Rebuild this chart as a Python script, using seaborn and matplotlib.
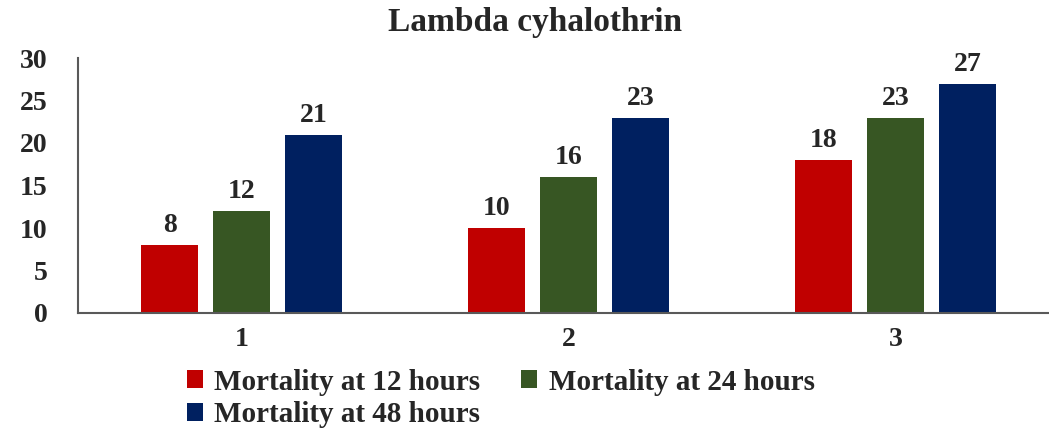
import pandas as pd
import matplotlib.pyplot as plt
import seaborn as sns

# chart data
groups = ['1', '2', '3']
series_names = ['Mortality at 12 hours', 'Mortality at 24 hours', 'Mortality at 48 hours']
mort_12h = [8, 10, 18]
mort_24h = [12, 16, 23]
mort_48h = [21, 23, 27]
colors = ['#C00000', '#375623', '#002060']

# long form table for seaborn
rows = []
for name, vals in zip(series_names, [mort_12h, mort_24h, mort_48h]):
    for g, v in zip(groups, vals):
        rows.append({'group': g, 'series': name, 'value': v})
df = pd.DataFrame(rows)

sns.set_style('white')
plt.rcParams['font.family'] = ['Liberation Serif', 'DejaVu Serif']
plt.rcParams['font.weight'] = 'bold'

fig = plt.figure(figsize=(10.49, 4.28), dpi=100)
ax = fig.add_axes([78 / 1049, 115 / 428, 971 / 1049, 255 / 428])

sns.barplot(data=df, x='group', y='value', hue='series', hue_order=series_names,
            palette=colors, width=0.66, gap=0.2, linewidth=0, saturation=1, ax=ax)

for cont in ax.containers:
    ax.bar_label(cont, fontsize=20, fontweight='bold', padding=5)

ax.set_ylim(0, 30)
ax.set_yticks(range(0, 31, 5))
ax.set_xlim(-0.5, -0.5 + 971 / 327)
ax.set_xlabel('')
ax.set_ylabel('')
ax.tick_params(axis='both', length=0, labelsize=20)
ax.tick_params(axis='y', pad=22)
ax.tick_params(axis='x', pad=10)
for lbl in ax.get_xticklabels() + ax.get_yticklabels():
    lbl.set_fontweight('bold')

for side in ['top', 'right']:
    ax.spines[side].set_visible(False)
for side in ['left', 'bottom']:
    ax.spines[side].set_color('#595959')
    ax.spines[side].set_linewidth(1.5)

fig.text(0.51, 0.948, 'Lambda cyhalothrin', ha='center', va='center',
         fontsize=24, fontweight='bold')

handles, labels = ax.get_legend_handles_labels()
order = [0, 2, 1]
ax.legend([handles[i] for i in order], [labels[i] for i in order],
          ncol=2, loc='upper left', bbox_to_anchor=(172 / 1049, 74 / 428),
          bbox_transform=fig.transFigure, frameon=False,
          prop={'size': 21, 'weight': 'bold'},
          handlelength=0.55, handleheight=0.55, handletextpad=0.4,
          columnspacing=1.4, labelspacing=0.2, borderpad=0)

fig.savefig('out.png', dpi=100)
